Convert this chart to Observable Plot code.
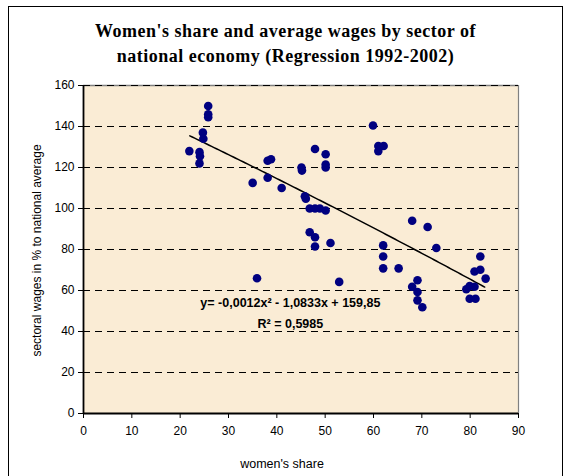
<!DOCTYPE html>
<html><head><meta charset="utf-8">
<script src="https://cdn.jsdelivr.net/npm/d3@7"></script>
<script src="https://cdn.jsdelivr.net/npm/@observablehq/plot@0.6"></script>
<style>
body{margin:0;background:#fff;width:570px;height:476px;overflow:hidden;position:relative;font-family:"Liberation Sans",Arial,sans-serif;}
#frame{position:absolute;left:8px;top:6px;width:555px;height:490px;border:1px solid #000;box-sizing:border-box;}
#title{position:absolute;left:8px;top:19px;width:555px;text-align:center;font-family:"Liberation Serif","Times New Roman",serif;font-weight:bold;font-size:18px;letter-spacing:0.5px;line-height:25px;color:#000;}
#chart{position:absolute;left:0;top:75px;}
</style></head><body>
<div id="frame"></div>
<div id="title">Women's share and average wages by sector of<br>national economy (Regression 1992-2002)</div>
<div id="chart"></div>
<script>
const womenShare = [25.8,25.8,25.8,24.7,24.8,21.9,24.0,24.1,24.0,35.0,38.1,38.8,38.1,41.0,45.1,45.2,45.8,46.0,47.9,50.1,50.1,50.1,46.8,47.9,48.9,50.1,46.8,47.9,47.9,51.1,35.9,52.9,59.9,61.0,62.1,61.0,68.0,71.2,73.0,62.0,62.0,62.0,65.2,68.0,69.1,69.1,69.1,70.1,82.1,80.9,82.1,83.2,79.2,79.9,80.9,79.9,81.1];
const wages = [150,146,144.5,137,134,128,127.5,125.5,122,112.5,123.3,124,115,110,120,118.5,106,104.8,129,126.5,121.5,120,100,100,100,99,88.4,86,81.5,83.2,66,64.2,140.5,130.5,130.5,128,94,91,80.7,82,76.6,70.8,70.8,61.8,65,59.3,55.2,51.8,76.6,69.3,70.1,65.8,60.6,62.2,61.8,56,56];
const xTicks = [0,10,20,30,40,50,60,70,80,90];
const yTicks = [0,20,40,60,80,100,120,140,160];
const trendCoef = [-0.0012, -1.0833, 159.85]; // y = a x^2 + b x + c
const trendRange = [22, 83];
const eqLabel = "y= -0,0012x² - 1,0833x + 159,85";
const r2Label = "R² = 0,5985";
const xLabel = "women's share";
const yLabel = "sectoral wages in % to national average";

const points = womenShare.map((x, i) => ({x, y: wages[i]}));
const trend = d3.range(trendRange[0], trendRange[1] + 0.001, 0.5).map(x => ({x, y: trendCoef[0]*x*x + trendCoef[1]*x + trendCoef[2]}));

const plot = Plot.plot({
  width: 570, height: 401,
  marginLeft: 83, marginRight: 52, marginTop: 10, marginBottom: 63,
  style: {background: "transparent", fontFamily: "'Liberation Sans', Arial, sans-serif", fontSize: "12px", color: "#000", overflow: "visible"},
  x: {domain: [0, 90]},
  y: {domain: [0, 160]},
  marks: [
    Plot.frame({fill: "#FAECD5", stroke: null}),
    Plot.ruleX([90], {stroke: "#808080", strokeWidth: 1.2}),
    Plot.ruleY([160], {stroke: "#808080", strokeWidth: 1.5}),
    Plot.gridY(yTicks.filter(d => d > 0), {stroke: "#000", strokeOpacity: 1, strokeDasharray: "7,5"}),
    Plot.ruleY([0], {stroke: "#000", strokeWidth: 1.8}),
    Plot.ruleX([0], {stroke: "#000", strokeWidth: 1.8}),
    Plot.axisX(xTicks, {tickSize: 5, tickPadding: 8, label: null, fontSize: 12}),
    Plot.axisY(yTicks, {tickSize: 5, tickPadding: 4, label: null, fontSize: 12}),
    Plot.line(trend, {x: "x", y: "y", stroke: "#000", strokeWidth: 1.5}),
    Plot.dot(points, {x: "x", y: "y", r: 4.3, fill: "#000080", stroke: null}),
    Plot.text([eqLabel], {x: 42.8, y: 53.7, text: d => d, fontWeight: "bold", fontSize: 12.5}),
    Plot.text([r2Label], {x: 42.8, y: 43.9, text: d => d, fontWeight: "bold", fontSize: 12.5}),
    Plot.text([xLabel], {frameAnchor: "bottom", textAnchor: "middle", lineAnchor: "middle", text: d => d, dy: 50, dx: -19, fontSize: 12.5}),
    Plot.text([yLabel], {frameAnchor: "left", textAnchor: "middle", lineAnchor: "middle", text: d => d, rotate: -90, dx: -46, dy: 1, fontSize: 12})
  ]
});
document.getElementById("chart").appendChild(plot);
</script>
</body></html>
